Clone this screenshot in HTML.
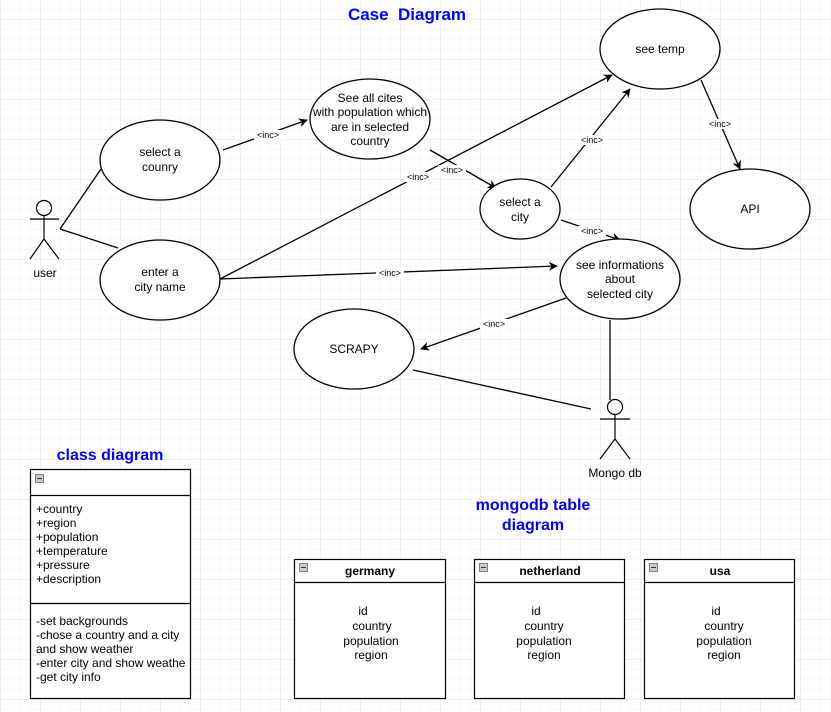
<!DOCTYPE html>
<html><head><meta charset="utf-8"><style>
html,body{margin:0;padding:0;background:#fff;}
svg{display:block;font-family:"Liberation Sans",Arial,sans-serif;}
</style></head><body>
<svg width="831" height="712" viewBox="0 0 831 712" xmlns="http://www.w3.org/2000/svg">
<defs>
<pattern id="minor" width="10" height="10" patternUnits="userSpaceOnUse" x="0.5" y="-0.5">
<path d="M0 0V10M0 0H10" fill="none" stroke="#f3f3f3" stroke-width="1"/>
</pattern>
<pattern id="major" width="40" height="40" patternUnits="userSpaceOnUse" x="0.5" y="-20.5">
<path d="M0 0V40M0 0H40" fill="none" stroke="#e0e0e0" stroke-width="1"/>
</pattern>
<marker id="ar" viewBox="0 0 10 10" refX="9" refY="5" markerWidth="9" markerHeight="9" orient="auto" markerUnits="userSpaceOnUse">
<path d="M0 0L10 5L0 10L3 5Z" fill="#000"/>
</marker>
</defs>
<rect width="831" height="712" fill="#fff"/>
<rect width="831" height="712" fill="url(#minor)"/>
<rect width="831" height="712" fill="url(#major)"/>

<g font-weight="bold" fill="#0000ff" font-size="16" text-anchor="middle">
<text x="407" y="20" font-size="17">Case&#160; Diagram</text>
<text x="110" y="460">class diagram</text>
<text x="533" y="510">mongodb table</text>
<text x="533" y="530">diagram</text>
</g>

<g stroke="#000" stroke-width="1.3" fill="none">
<line x1="60" y1="229" x2="101" y2="169"/>
<line x1="60" y1="229" x2="118" y2="248"/>
<line x1="223" y1="150" x2="307" y2="120" marker-end="url(#ar)"/>
<line x1="430" y1="150" x2="496" y2="188" marker-end="url(#ar)"/>
<line x1="220" y1="279" x2="612" y2="75" marker-end="url(#ar)"/>
<line x1="551" y1="187" x2="630" y2="89" marker-end="url(#ar)"/>
<line x1="561" y1="220" x2="620" y2="240" marker-end="url(#ar)"/>
<line x1="220" y1="279" x2="557" y2="266" marker-end="url(#ar)"/>
<line x1="701" y1="80" x2="740" y2="169" marker-end="url(#ar)"/>
<line x1="566" y1="298" x2="421" y2="349" marker-end="url(#ar)"/>
<line x1="610" y1="320" x2="610" y2="400"/>
<line x1="413" y1="370" x2="591" y2="409"/>
</g>
<g stroke="#000" stroke-width="1.3" fill="#fff">
<ellipse cx="660" cy="49" rx="60" ry="40"/>
<ellipse cx="750" cy="209" rx="60" ry="40"/>
<ellipse cx="160" cy="160" rx="60" ry="40"/>
<ellipse cx="370" cy="119" rx="60" ry="40"/>
<ellipse cx="520" cy="209" rx="40" ry="30"/>
<ellipse cx="160" cy="280" rx="60" ry="40"/>
<ellipse cx="620" cy="279" rx="60" ry="40"/>
<ellipse cx="354" cy="349" rx="60" ry="40"/>
</g>
<g stroke="#000" stroke-width="1.2" fill="none">
<circle cx="44" cy="208" r="7.5" fill="#fff"/>
<line x1="44" y1="215.5" x2="44" y2="239"/>
<line x1="30" y1="219" x2="59" y2="219"/>
<line x1="44" y1="239" x2="30" y2="259"/>
<line x1="44" y1="239" x2="59" y2="259"/>
<circle cx="615" cy="407" r="7.5" fill="#fff"/>
<line x1="615" y1="414.5" x2="615" y2="439"/>
<line x1="600" y1="419" x2="630" y2="419"/>
<line x1="615" y1="439" x2="600" y2="459"/>
<line x1="615" y1="439" x2="630" y2="459"/>
</g>
<g font-size="12" fill="#000" text-anchor="middle">
<text x="45" y="277">user</text>
<text x="615" y="477">Mongo db</text>
<text x="660" y="53">see temp</text>
<text x="750" y="213">API</text>
<text x="160" y="156">select a</text>
<text x="160" y="171">counry</text>
<text x="370" y="102">See all cites</text>
<text x="370" y="116">with population which</text>
<text x="370" y="131">are in selected</text>
<text x="370" y="145">country</text>
<text x="520" y="206">select a</text>
<text x="520" y="221">city</text>
<text x="160" y="276">enter a</text>
<text x="160" y="291">city name</text>
<text x="620" y="269">see informations</text>
<text x="620" y="283">about</text>
<text x="620" y="298">selected city</text>
<text x="354" y="353">SCRAPY</text>
</g>
<g font-size="9" text-anchor="middle" fill="#000">
<rect x="254" y="130" width="28" height="10" fill="#fff"/><text x="268" y="138">&lt;inc&gt;</text>
<rect x="438" y="165" width="28" height="10" fill="#fff"/><text x="452" y="173">&lt;inc&gt;</text>
<rect x="404" y="172" width="28" height="10" fill="#fff"/><text x="418" y="180">&lt;inc&gt;</text>
<rect x="578" y="135" width="28" height="10" fill="#fff"/><text x="592" y="143">&lt;inc&gt;</text>
<rect x="578" y="226" width="28" height="10" fill="#fff"/><text x="592" y="234">&lt;inc&gt;</text>
<rect x="376" y="268" width="28" height="10" fill="#fff"/><text x="390" y="276">&lt;inc&gt;</text>
<rect x="706" y="119" width="28" height="10" fill="#fff"/><text x="720" y="127">&lt;inc&gt;</text>
<rect x="480" y="319" width="28" height="10" fill="#fff"/><text x="494" y="327">&lt;inc&gt;</text>
</g>

<g stroke="#000" stroke-width="1.2" fill="#fff">
<rect x="30.5" y="469.5" width="160" height="229"/>
<line x1="30.5" y1="495.5" x2="190.5" y2="495.5"/>
<line x1="30.5" y1="603.5" x2="190.5" y2="603.5"/>
<rect x="294.5" y="559.5" width="151" height="139"/>
<line x1="294.5" y1="582.5" x2="445.5" y2="582.5"/>
<rect x="474.5" y="559.5" width="150" height="139"/>
<line x1="474.5" y1="582.5" x2="624.5" y2="582.5"/>
<rect x="644.5" y="559.5" width="150" height="139"/>
<line x1="644.5" y1="582.5" x2="794.5" y2="582.5"/>
</g>
<g fill="#ccc" stroke="#666" stroke-width="0.8">
<rect x="35.5" y="474.5" width="8" height="8"/>
<rect x="299.5" y="563.5" width="8" height="8"/>
<rect x="479.5" y="563.5" width="8" height="8"/>
<rect x="649.5" y="563.5" width="8" height="8"/>
</g>
<g stroke="#333" stroke-width="1">
<line x1="37" y1="478.5" x2="42" y2="478.5"/>
<line x1="301" y1="567.5" x2="306" y2="567.5"/>
<line x1="481" y1="567.5" x2="486" y2="567.5"/>
<line x1="651" y1="567.5" x2="656" y2="567.5"/>
</g>
<g font-size="12" fill="#000">
<text x="36" y="513">+country</text>
<text x="36" y="527">+region</text>
<text x="36" y="541">+population</text>
<text x="36" y="555">+temperature</text>
<text x="36" y="569">+pressure</text>
<text x="36" y="583">+description</text>
<text x="36" y="625">-set backgrounds</text>
<text x="36" y="639">-chose a country and a city</text>
<text x="36" y="653">and show weather</text>
<text x="36" y="667">-enter city and show weathe</text>
<text x="36" y="681">-get city info</text>
</g>
<g font-size="12" fill="#000" text-anchor="middle">
<text x="370" y="575" font-weight="bold">germany</text>
<text x="550" y="575" font-weight="bold">netherland</text>
<text x="720" y="575" font-weight="bold">usa</text>
<text x="363" y="615">id</text><text x="372" y="630">country</text><text x="371" y="645">population</text><text x="371" y="659">region</text>
<text x="536" y="615">id</text><text x="544" y="630">country</text><text x="544" y="645">population</text><text x="544" y="659">region</text>
<text x="716" y="615">id</text><text x="724" y="630">country</text><text x="724" y="645">population</text><text x="724" y="659">region</text>
</g>
</svg>
</body></html>
